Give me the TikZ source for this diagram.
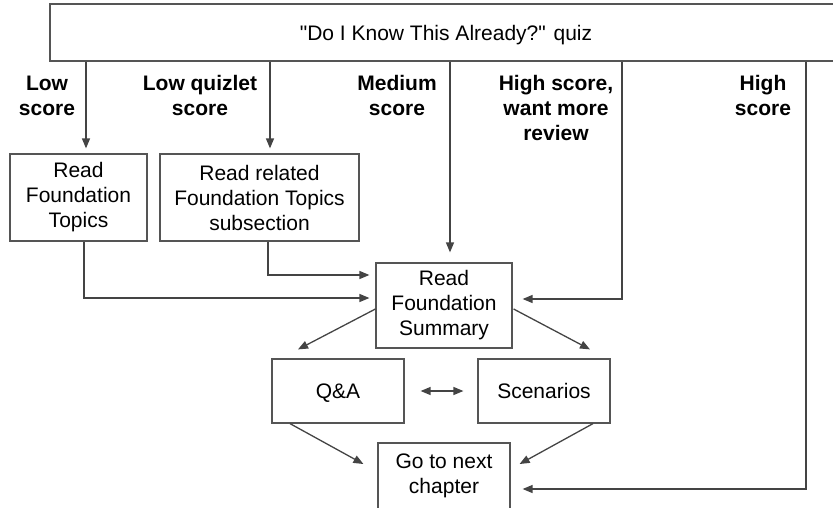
\documentclass[tikz,border=0pt]{standalone}
\usepackage{fontspec}
\setmainfont{Liberation Sans}
\usetikzlibrary{arrows.meta,calc}
\definecolor{linegray}{HTML}{444444}
\definecolor{boxgray}{HTML}{555555}
\tikzset{
  box/.style={draw=boxgray, line width=1.2pt, fill=white, align=center, inner sep=0pt,
    font=\fontsize{21}{25}\selectfont},
  single/.style={draw=boxgray, line width=1.2pt, fill=white, inner sep=0pt,
    text height=15pt, text depth=0pt, font=\fontsize{21}{25}\selectfont},
  lbl/.style={align=center, inner sep=0pt, font=\fontsize{21}{25}\selectfont\bfseries},
  arr/.style={draw=linegray, line width=1.3pt, -{Triangle[length=10pt,width=8pt]}},
  darr/.style={draw=linegray, line width=1.3pt, {Triangle[length=10pt,width=8pt]}-{Triangle[length=10pt,width=8pt]}},
}
\begin{document}
\begin{tikzpicture}[x=1pt,y=-1pt]
\useasboundingbox (0,0) rectangle (833,507);
\clip (0,0) rectangle (833,507);
% nodes
\node[box, minimum width=790pt, minimum height=57pt] (quiz) at (445,32.5) {};
\node[font=\fontsize{21}{25}\selectfont, text height=15pt, text depth=0pt, inner sep=0pt] (quiztext) at (446,33) {\textquotedbl Do I Know This Already?\textquotedbl{} quiz};
\node[box, minimum width=137pt, minimum height=87pt] (topics) at (78.5,197.5) {Read\\Foundation\\Topics};
\node[box, minimum width=199pt, minimum height=87pt] (related) at (259.5,197.5) {Read related\\Foundation Topics\\subsection};
\node[box, minimum width=136pt, minimum height=85pt] (summary) at (444,305.5) {Read\\Foundation\\Summary};
\node[single, minimum width=132pt, minimum height=64pt] (qa) at (338,391) {Q\&A};
\node[single, minimum width=132pt, minimum height=64pt] (scen) at (544,391) {Scenarios};
\node[box, minimum width=132pt, minimum height=66pt] (go) at (444,476) {Go to next\\chapter};
% labels
\node[lbl] (l1) at (47,95.5) {Low\\score};
\node[lbl] (l2) at (200,95.5) {Low quizlet\\score};
\node[lbl] (l3) at (397,95.5) {Medium\\score};
\node[lbl] (l4) at (556,108) {High score,\\want more\\review};
\node[lbl] (l5) at (763,95.5) {High\\score};
% connectors
\draw[arr, shorten >=5pt] (quiz.south -| 86,0) -- (topics.north -| 86,0);
\draw[arr, shorten >=5pt] (quiz.south -| 270,0) -- (related.north -| 270,0);
\draw[arr, shorten >=10pt] (quiz.south -| 450,0) -- (summary.north -| 450,0);
\draw[arr, shorten >=10pt] (quiz.south -| 622,0) |- ($(summary.east)+(0,-6.5)$);
\draw[arr, shorten >=12pt] (quiz.south -| 806,0) |- ($(go.east)+(0,13)$);
\draw[arr, shorten >=6pt] (topics.south -| 84,0) |- ($(summary.west)+(0,-7.5)$);
\draw[arr, shorten >=6pt] (related.south -| 268,0) |- ($(summary.west)+(0,-30.5)$);
\draw[arr] ($(summary.west)+(0,3.5)$) -- ($(qa.north)+(-40,-9)$);
\draw[arr] ($(summary.east)+(1,3.5)$) -- ($(scen.north)+(46,-9)$);
\draw[arr] ($(qa.south)+(-48,0)$) -- ($(go.west)+(-14,-12)$);
\draw[arr] ($(scen.south)+(49,0)$) -- ($(go.east)+(9,-12)$);
\draw[darr, shorten <=16pt, shorten >=14pt] (qa.east) -- (scen.west);
\end{tikzpicture}
\end{document}
